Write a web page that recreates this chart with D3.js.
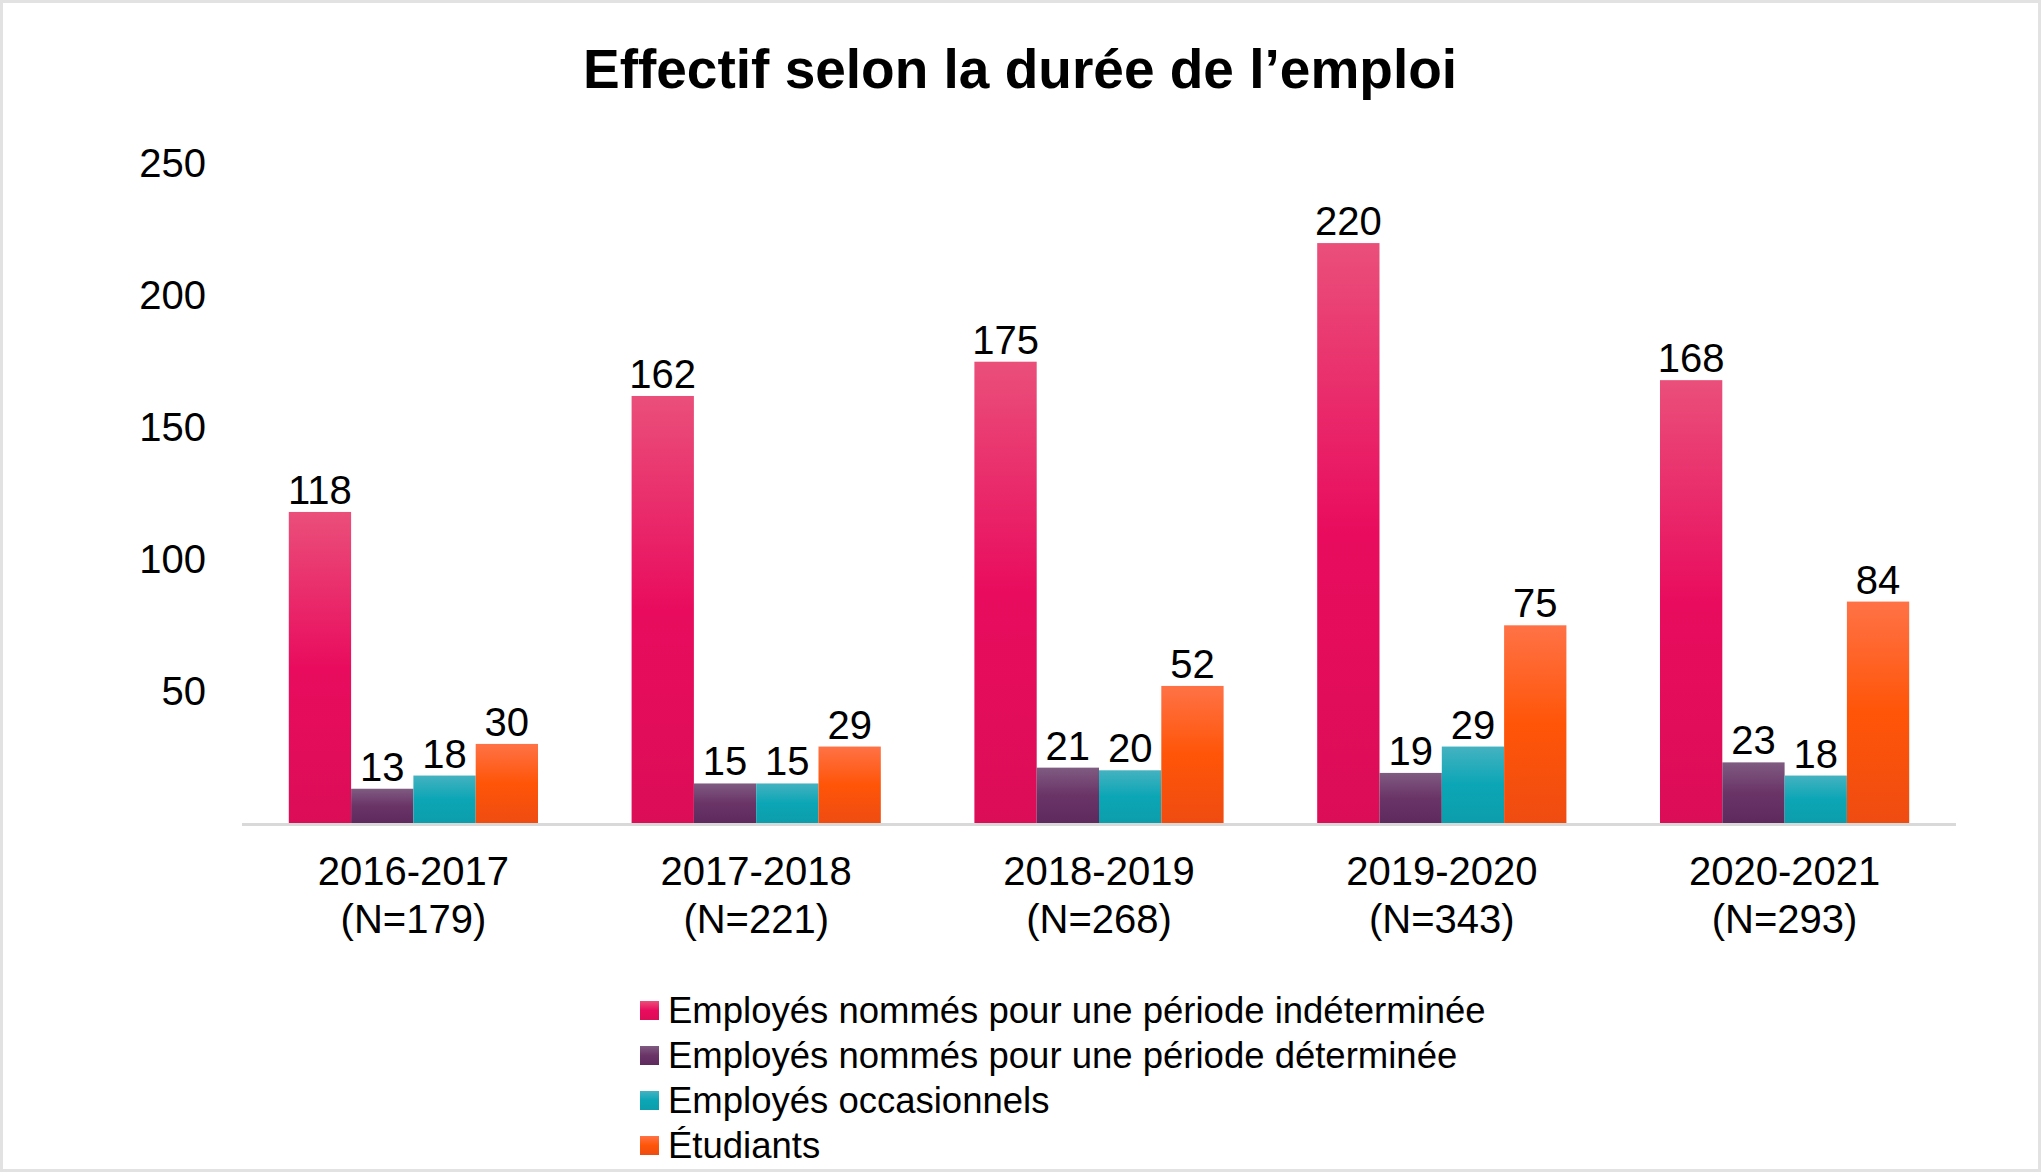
<!DOCTYPE html>
<html>
<head>
<meta charset="utf-8">
<script src="https://cdn.jsdelivr.net/npm/d3@7"></script>
<style>
  body { margin: 0; background: #fff; }
  text { font-family: "Liberation Sans", Arial, sans-serif; fill: #000; }
</style>
</head>
<body>
<script>
// chart data
var years = ["2016-2017", "2017-2018", "2018-2019", "2019-2020", "2020-2021"];
var totals = [179, 221, 268, 343, 293];
var indeterminee = [118, 162, 175, 220, 168];
var determinee = [13, 15, 21, 19, 23];
var occasionnels = [18, 15, 20, 29, 18];
var etudiants = [30, 29, 52, 75, 84];
var seriesNames = [
  "Employés nommés pour une période indéterminée",
  "Employés nommés pour une période déterminée",
  "Employés occasionnels",
  "Étudiants"
];
var yTicks = [50, 100, 150, 200, 250];

var series = [indeterminee, determinee, occasionnels, etudiants];

// gradient stops per series: light top, base middle, darker bottom
var gradients = [
  ["#ea4f7a", "#e90c5e", "#dc0d57"],
  ["#7f5b81", "#6a3467", "#5e2a5e"],
  ["#44b2c0", "#0ba6b6", "#0d9dab"],
  ["#ff7246", "#ff5508", "#ef4c12"]
];

var width = 2041,
    height = 1172;

var svg = d3.select("body").append("svg")
    .attr("width", width)
    .attr("height", height);

var defs = svg.append("defs");
gradients.forEach(function(g, i) {
  var lg = defs.append("linearGradient")
      .attr("id", "grad" + i)
      .attr("x1", 0).attr("y1", 0).attr("x2", 0).attr("y2", 1);
  lg.append("stop").attr("offset", "0%").attr("stop-color", g[0]);
  lg.append("stop").attr("offset", "50%").attr("stop-color", g[1]);
  lg.append("stop").attr("offset", "100%").attr("stop-color", g[2]);
});

// frame
svg.append("rect")
    .attr("x", 1.5).attr("y", 1.5)
    .attr("width", width - 3).attr("height", height - 3)
    .attr("fill", "#fff")
    .attr("stroke", "#e2e2e2")
    .attr("stroke-width", 3);

// title
svg.append("text")
    .attr("x", 1020)
    .attr("y", 88)
    .attr("text-anchor", "middle")
    .style("font-size", "55px")
    .style("font-weight", "bold")
    .text("Effectif selon la durée de l’emploi");

var plotLeft = 242, plotRight = 1956, plotTop = 164, plotBottom = 823;

var x0 = d3.scaleBand()
    .domain(years)
    .range([plotLeft, plotRight])
    .paddingInner(0.273)
    .paddingOuter(0.1365);

var x1 = d3.scaleBand()
    .domain(d3.range(series.length))
    .range([0, x0.bandwidth()]);

var y = d3.scaleLinear()
    .domain([0, 250])
    .range([plotBottom, plotTop]);

// y axis labels (no line, no ticks)
var yAxis = svg.append("g")
    .attr("transform", "translate(206,0)")
    .call(d3.axisLeft(y).tickValues(yTicks).tickSize(0).tickPadding(0));
yAxis.select(".domain").remove();
yAxis.selectAll("text")
    .style("font-size", "40px")
    .style("font-family", "'Liberation Sans', Arial, sans-serif")
    .attr("fill", "#000");

// bars
var groups = svg.selectAll(".group")
    .data(years)
  .enter().append("g")
    .attr("class", "group")
    .attr("transform", function(d) { return "translate(" + x0(d) + ",0)"; });

groups.each(function(yr, gi) {
  var g = d3.select(this);
  var vals = series.map(function(s, si) { return { si: si, v: s[gi] }; });

  g.selectAll("rect")
      .data(vals)
    .enter().append("rect")
      .attr("x", function(d) { return x1(d.si); })
      .attr("y", function(d) { return y(d.v); })
      .attr("width", x1.bandwidth())
      .attr("height", function(d) { return y(0) - y(d.v); })
      .attr("fill", function(d) { return "url(#grad" + d.si + ")"; });

  g.selectAll(".val")
      .data(vals)
    .enter().append("text")
      .attr("class", "val")
      .attr("x", function(d) { return x1(d.si) + x1.bandwidth() / 2; })
      .attr("y", function(d) { return y(d.v) - 8; })
      .attr("text-anchor", "middle")
      .style("font-size", "40px")
      .text(function(d) { return d.v; });
});

// baseline
svg.append("line")
    .attr("x1", plotLeft).attr("x2", plotRight)
    .attr("y1", plotBottom + 1.5).attr("y2", plotBottom + 1.5)
    .attr("stroke", "#d9d9d9")
    .attr("stroke-width", 3);

// category labels, two lines
var xl = svg.selectAll(".xlab")
    .data(years)
  .enter().append("text")
    .attr("class", "xlab")
    .attr("text-anchor", "middle")
    .style("font-size", "40px");
xl.append("tspan")
    .attr("x", function(d) { return x0(d) + x0.bandwidth() / 2; })
    .attr("y", 885)
    .text(function(d) { return d; });
xl.append("tspan")
    .attr("x", function(d) { return x0(d) + x0.bandwidth() / 2; })
    .attr("y", 933)
    .text(function(d, i) { return "(N=" + totals[i] + ")"; });

// legend
var legend = svg.selectAll(".legend")
    .data(seriesNames)
  .enter().append("g")
    .attr("class", "legend")
    .attr("transform", function(d, i) { return "translate(640," + (1001 + i * 45) + ")"; });

legend.append("rect")
    .attr("width", 19)
    .attr("height", 19)
    .attr("fill", function(d, i) { return "url(#grad" + i + ")"; });

legend.append("text")
    .attr("x", 28)
    .attr("y", 22)
    .style("font-size", "36.5px")
    .text(function(d) { return d; });
</script>
</body>
</html>
